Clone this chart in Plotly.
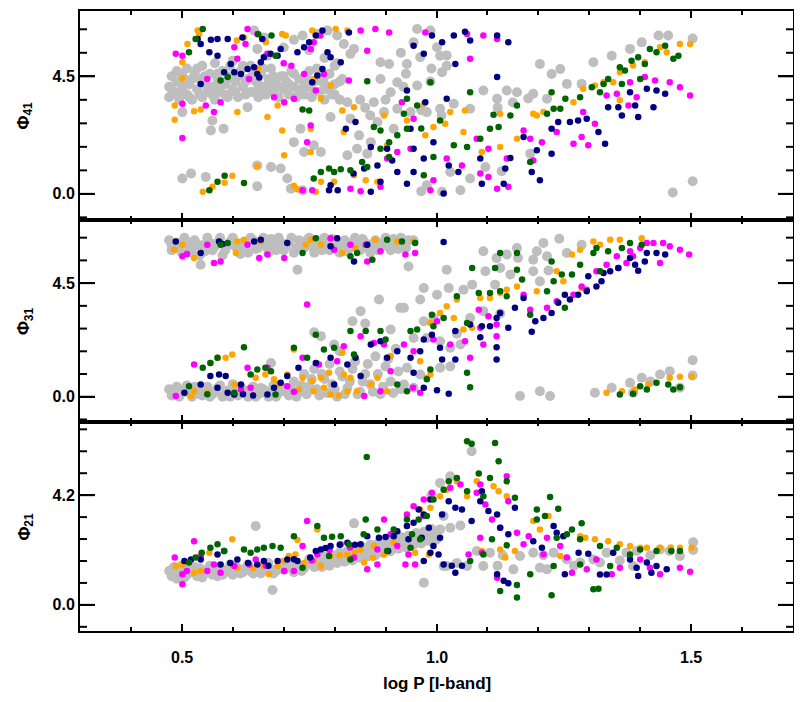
import plotly.graph_objects as go
from plotly.subplots import make_subplots

# ---- data: (log P, phase) pairs per panel and group ----

# Phi_41 panel
top_gray = [
    (0.475, 4.1), (0.475, 3.7), (0.48, 4.5), (0.485, 3.9), (0.49, 4.3), (0.49, 4.7), (0.495, 3.6),
    (0.50, 4.0), (0.505, 4.4), (0.51, 3.8), (0.51, 4.8), (0.515, 4.2), (0.52, 3.6), (0.525, 4.6),
    (0.53, 4.0), (0.535, 4.4), (0.54, 3.7), (0.54, 4.9), (0.545, 4.2), (0.55, 3.9), (0.555, 4.6),
    (0.56, 4.1), (0.565, 3.6), (0.565, 5.0), (0.57, 4.4), (0.575, 3.9), (0.58, 4.7), (0.585, 4.2),
    (0.59, 3.7), (0.595, 4.5), (0.60, 4.0), (0.60, 5.1), (0.605, 4.3), (0.61, 3.7), (0.615, 4.7),
    (0.62, 4.1), (0.625, 3.8), (0.63, 4.4), (0.635, 4.9), (0.64, 3.9), (0.645, 4.3), (0.65, 3.7),
    (0.655, 4.6), (0.66, 4.1), (0.665, 3.8), (0.67, 4.4), (0.675, 4.8), (0.68, 3.9), (0.685, 4.2),
    (0.69, 3.7), (0.695, 4.5), (0.70, 4.0), (0.705, 4.3), (0.71, 3.8), (0.715, 4.7), (0.72, 4.1),
    (0.725, 3.7), (0.73, 4.4), (0.735, 4.0), (0.74, 3.8), (0.745, 4.5), (0.75, 4.1), (0.755, 3.7),
    (0.76, 4.3), (0.765, 4.8), (0.77, 3.9), (0.775, 4.3), (0.78, 3.6), (0.785, 4.0), (0.79, 4.6),
    (0.795, 3.8), (0.80, 4.2), (0.805, 5.0), (0.81, 3.6), (0.815, 4.4),
    (0.48, 4.0), (0.49, 3.8), (0.50, 4.6), (0.50, 4.2), (0.515, 3.7), (0.52, 4.4), (0.53, 4.8),
    (0.535, 3.8), (0.545, 4.5), (0.55, 4.1), (0.56, 3.8), (0.57, 4.6), (0.575, 4.2), (0.585, 3.8),
    (0.59, 4.4), (0.595, 4.9), (0.605, 3.9), (0.61, 4.5), (0.62, 4.9), (0.625, 4.3), (0.635, 3.9),
    (0.64, 4.6), (0.65, 4.2), (0.655, 3.9), (0.66, 4.8), (0.67, 4.1), (0.68, 4.5), (0.69, 4.1),
    (0.70, 4.5), (0.71, 4.2), (0.72, 4.6), (0.73, 3.9), (0.74, 4.3), (0.75, 4.7), (0.76, 3.9),
    (0.77, 4.6), (0.78, 4.2), (0.79, 4.0), (0.80, 3.8), (0.81, 4.3),
    (0.642, 6.25), (0.661, 5.99), (0.737, 6.06), (0.766, 6.12), (0.786, 6.25), (0.805, 6.06),
    (0.818, 5.74), (0.838, 5.55), (0.648, 5.55), (0.668, 5.29), (0.831, 5.36), (0.70, 5.6),
    (0.72, 5.9), (0.75, 5.5), (0.78, 5.2),
    (0.501, 3.13), (0.560, 2.81), (0.557, 2.43), (0.582, 2.49), (0.629, 3.32), (0.501, 0.59),
    (0.518, 0.78), (0.547, 0.65), (0.648, 0.29), (0.648, 1.09), (0.675, 1.03), (0.694, 0.97),
    (0.707, 0.59), (0.714, 0.20), (0.737, 0.14), (0.720, 1.98), (0.733, 2.49), (0.740, 1.60),
    (0.759, 1.86), (0.773, 1.60), (0.792, 2.94), (0.825, 3.51), (0.831, 2.88), (0.848, 2.24),
    (0.825, 1.48), (0.844, 1.73), (0.864, 1.54), (0.890, 5.04), (0.907, 4.97), (0.890, 4.40),
    (0.910, 3.89), (0.923, 4.27), (0.877, 3.51), (0.897, 3.13), (0.923, 3.26), (0.884, 2.75),
    (0.916, 2.49), (0.871, 1.98), (0.85, 3.6), (0.86, 3.3), (0.87, 3.0), (0.90, 3.6),
    (0.78, 4.5), (0.80, 4.9),
    (0.962, 6.31), (0.988, 6.25), (1.001, 5.61), (0.942, 4.97), (0.968, 5.23), (1.007, 5.29),
    (1.020, 5.30), (1.011, 4.66), (0.962, 4.15), (0.988, 4.30), (0.949, 3.13), (0.981, 3.13),
    (1.007, 3.26), (1.034, 3.45), (1.066, 3.26), (1.092, 3.96), (1.119, 3.64), (1.138, 3.96),
    (1.158, 3.89), (1.19, 3.83), (1.203, 4.97), (1.217, 3.64), (1.226, 4.59), (1.243, 4.78),
    (1.256, 4.21), (1.285, 4.21), (1.308, 5.04), (1.344, 5.29), (1.380, 5.55), (1.403, 5.80),
    (1.436, 6.06), (1.455, 6.06), (1.503, 5.95), (1.503, 0.48), (1.464, 0.05), (0.981, 0.33),
    (1.011, 0.08), (1.047, 0.14), (1.027, 0.84), (1.066, 0.59), (1.096, 1.03), (1.128, 0.87),
    (1.184, 1.54), (0.93, 5.4), (0.955, 5.8), (0.94, 4.6), (0.99, 4.8), (1.02, 4.9), (0.935, 4.1),
    (1.12, 3.3), (1.15, 3.5), (1.18, 3.65), (0.97, 3.2), (1.01, 3.0), (0.97, 0.1),
]
top_orange = [
    (0.511, 5.74), (0.501, 5.04), (0.501, 4.43), (0.486, 3.38), (0.486, 2.84), (0.524, 3.16),
    (0.537, 3.23), (0.541, 0.08), (0.560, 0.27), (0.584, 0.43), (0.599, 0.69), (0.648, 1.07),
    (0.609, 3.13), (0.534, 6.12), (0.531, 6.25), (0.608, 5.87), (0.622, 5.99), (0.665, 5.80),
    (0.697, 6.12), (0.704, 6.06), (0.756, 6.25), (0.802, 6.31), (0.825, 6.25), (0.688, 3.38),
    (0.668, 2.94), (0.697, 2.43), (0.753, 2.49), (0.701, 1.48), (0.753, 1.60), (0.720, 0.31),
    (0.727, 0.18), (0.763, 0.08), (0.773, 3.64), (0.792, 4.15), (0.815, 3.19), (0.818, 2.37),
    (0.838, 3.32), (0.897, 3.0), (0.903, 1.86), (0.773, 0.46), (0.799, 0.46), (0.838, 0.71),
    (0.861, 0.52), (0.884, 0.46), (0.65, 4.8), (0.76, 4.4),
    (1.027, 3.13), (1.053, 2.37), (1.056, 3.19), (1.125, 3.07), (1.190, 3.07), (1.288, 4.02),
    (1.311, 4.15), (1.328, 4.27), (1.360, 4.66), (1.386, 4.91), (1.409, 5.04), (1.439, 5.61),
    (1.452, 5.42), (1.478, 5.74), (1.498, 5.74), (1.360, 3.58), (1.347, 4.27), (1.125, 1.79),
    (1.089, 1.60), (0.994, 2.56), (0.975, 3.45), (0.942, 2.81), (0.978, 2.24), (1.017, 2.68),
    (1.158, 2.11), (1.197, 3.0), (1.210, 3.13), (1.269, 3.51),
]
top_magenta = [
    (0.488, 5.36), (0.501, 5.29), (0.501, 3.45), (0.501, 2.14), (0.547, 3.38), (0.563, 3.13),
    (0.576, 3.51), (0.550, 4.40), (0.603, 5.61), (0.625, 5.74), (0.609, 5.17), (0.629, 6.31),
    (0.648, 6.12), (0.668, 5.36), (0.632, 4.40), (0.681, 3.70), (0.701, 3.51), (0.720, 3.64),
    (0.740, 4.59), (0.753, 5.55), (0.759, 5.80), (0.772, 6.06), (0.779, 4.59), (0.763, 3.96),
    (0.753, 2.62), (0.746, 1.98), (0.737, 0.14), (0.756, 0.14), (0.828, 4.34), (0.851, 6.25),
    (0.864, 5.48), (0.880, 6.31), (0.907, 6.18), (0.831, 0.20), (0.851, 0.10), (0.890, 0.27),
    (0.903, 1.35), (0.923, 1.60), (0.70, 5.0), (0.715, 4.9),
    (0.978, 6.18), (1.060, 6.12), (1.092, 6.06), (1.119, 5.93), (1.066, 5.17), (0.932, 3.51),
    (0.955, 2.88), (0.949, 1.73), (0.988, 0.14), (0.994, 0.52), (1.020, 1.35), (1.050, 1.09),
    (1.079, 2.11), (1.102, 1.73), (1.086, 0.78), (1.102, 0.65), (1.119, 0.20), (1.141, 0.27),
    (1.138, 1.35), (1.171, 2.43), (1.184, 2.11), (1.190, 1.28), (1.207, 1.98), (1.236, 2.37),
    (1.269, 1.92), (1.285, 2.18), (1.298, 1.86), (1.311, 2.68), (1.334, 3.77), (1.354, 3.83),
    (1.377, 3.38), (1.393, 3.70), (1.409, 4.47), (1.429, 4.34), (1.458, 4.27), (1.478, 4.08),
    (1.498, 3.77), (1.380, 4.27), (1.288, 3.13),
]
top_navy = [
    (0.531, 5.93), (0.537, 5.74), (0.554, 5.42), (0.557, 5.90), (0.570, 5.93), (0.590, 5.93),
    (0.570, 5.29), (0.596, 4.97), (0.583, 4.66), (0.603, 4.66), (0.616, 4.59), (0.629, 4.78),
    (0.642, 4.85), (0.655, 5.04), (0.661, 5.23), (0.674, 5.36), (0.688, 5.29), (0.694, 5.55),
    (0.619, 5.99), (0.658, 5.93), (0.537, 4.21), (0.648, 4.59), (0.652, 4.45), (0.727, 5.42),
    (0.740, 5.61), (0.750, 5.80), (0.763, 6.06), (0.776, 6.25), (0.786, 5.42), (0.792, 5.23),
    (0.776, 4.78), (0.766, 4.53), (0.756, 4.27), (0.812, 5.04), (0.828, 6.18), (0.841, 2.75),
    (0.822, 2.49), (0.871, 1.79), (0.903, 1.73), (0.913, 1.28), (0.884, 1.09), (0.858, 0.97),
    (0.837, 0.78), (0.792, 0.33), (0.789, 0.14), (0.806, 0.14), (0.871, 0.08), (0.890, 0.46),
    (0.923, 0.84),
    (0.955, 5.67), (0.975, 5.36), (0.991, 6.06), (1.011, 5.80), (1.034, 6.06), (1.056, 6.21),
    (1.066, 5.87), (1.119, 6.06), (1.141, 5.80), (1.037, 4.97), (1.119, 4.47), (0.942, 3.96),
    (1.020, 3.64), (0.978, 3.51), (0.949, 2.49), (0.994, 1.98), (0.955, 1.73), (0.975, 1.35),
    (0.955, 0.84), (0.942, 0.39), (1.014, 0.01), (1.024, 1.09), (1.043, 0.84), (1.086, 1.35),
    (1.089, 0.39), (1.132, 0.39), (1.135, 0.97), (1.145, 1.37), (1.171, 2.18), (1.187, 0.84),
    (1.197, 1.67), (1.203, 0.52), (1.226, 1.54), (1.226, 2.49), (1.239, 2.75), (1.262, 2.75),
    (1.278, 2.81), (1.295, 2.88), (1.318, 2.37), (1.331, 1.92), (1.337, 3.32), (1.357, 3.32),
    (1.364, 3.0), (1.380, 3.89), (1.390, 3.38), (1.396, 2.94), (1.413, 4.02), (1.426, 3.32),
    (1.432, 3.96), (1.449, 3.83),
]
top_green = [
    (0.541, 6.31), (0.527, 5.93), (0.514, 5.42), (0.576, 4.34), (0.650, 6.11), (0.676, 6.06),
    (0.684, 5.29), (0.737, 3.23), (0.750, 3.19), (0.864, 4.31), (0.554, 0.14), (0.570, 0.46),
    (0.584, 0.69), (0.622, 0.42), (0.877, 2.56), (0.890, 2.43), (0.907, 1.98), (0.789, 0.97),
    (0.812, 0.94), (0.831, 0.90), (0.854, 1.22), (0.590, 4.47), (0.799, 0.84), (0.759, 0.59),
    (0.773, 0.84), (0.864, 1.03), (0.907, 1.41), (0.890, 1.73), (0.923, 2.24),
    (0.988, 4.27), (1.066, 3.89), (1.112, 3.03), (1.145, 3.0), (1.158, 3.38), (1.226, 3.89),
    (1.217, 3.07), (1.230, 3.26), (1.243, 3.26), (1.253, 3.64), (1.282, 3.70), (1.305, 4.08),
    (1.321, 3.89), (1.328, 4.21), (1.337, 4.40), (1.360, 4.85), (1.370, 4.72), (1.383, 5.10),
    (1.396, 5.23), (1.409, 4.97), (1.419, 5.55), (1.432, 5.42), (1.449, 5.67), (1.465, 5.17),
    (1.475, 5.29), (1.400, 4.40), (1.364, 4.21), (1.034, 1.86), (1.060, 1.79), (0.994, 1.41),
    (0.942, 3.64), (0.975, 0.71), (1.184, 1.22), (1.086, 2.11), (1.105, 2.49), (1.122, 2.56),
    (1.007, 2.81), (0.962, 3.38), (0.936, 3.07), (0.942, 2.49), (0.97, 2.5),
]

# Phi_31 panel
mid_gray = [
    (0.475, 6.2), (0.48, 5.8), (0.49, 6.1), (0.50, 5.7), (0.505, 6.3), (0.515, 5.9), (0.525, 6.2),
    (0.535, 5.6), (0.54, 6.0), (0.55, 6.3), (0.56, 5.8), (0.57, 6.1), (0.58, 5.6), (0.59, 6.0),
    (0.60, 6.3), (0.61, 5.8), (0.62, 6.1), (0.63, 5.7), (0.64, 6.2), (0.65, 5.9), (0.66, 6.3),
    (0.67, 5.7), (0.68, 6.0), (0.69, 6.3), (0.70, 5.8), (0.71, 6.1), (0.72, 5.7), (0.73, 6.2),
    (0.74, 5.9), (0.75, 6.3), (0.76, 5.7), (0.77, 6.0), (0.78, 6.3), (0.79, 5.8), (0.80, 6.1),
    (0.81, 5.7), (0.82, 6.2), (0.83, 5.9), (0.84, 6.3), (0.85, 5.8), (0.86, 6.1), (0.87, 5.7),
    (0.88, 6.2), (0.89, 5.9), (0.90, 6.3), (0.91, 5.8), (0.92, 6.1), (0.93, 6.3), (0.94, 5.9),
    (0.955, 6.2), (0.537, 5.23), (0.727, 5.03),
    (0.48, 6.0), (0.495, 5.85), (0.51, 6.15), (0.52, 5.7), (0.53, 6.0), (0.545, 5.75), (0.555, 6.1),
    (0.565, 5.95), (0.575, 6.3), (0.585, 5.8), (0.595, 6.15), (0.605, 5.95), (0.615, 5.65),
    (0.625, 6.0), (0.635, 6.3), (0.645, 5.85), (0.655, 6.1), (0.665, 5.95), (0.675, 6.25),
    (0.685, 5.8), (0.695, 6.1), (0.705, 5.95), (0.715, 6.3), (0.725, 5.9), (0.735, 6.05),
    (0.745, 6.2), (0.755, 5.95), (0.765, 6.2), (0.775, 5.8), (0.785, 6.05), (0.795, 6.25),
    (0.805, 5.9), (0.815, 6.05), (0.825, 5.75), (0.835, 6.1), (0.845, 5.95), (0.855, 6.25),
    (0.865, 5.9), (0.875, 6.05), (0.885, 5.8), (0.895, 6.1), (0.905, 5.95), (0.915, 6.25),
    (0.925, 5.85), (0.935, 6.1), (0.945, 6.2),
    (0.887, 3.85), (0.851, 3.39), (0.835, 2.99), (0.86, 2.9), (0.910, 2.66), (0.773, 2.40),
    (0.76, 2.55), (0.929, 3.52), (0.675, 1.34), (0.799, 2.07), (0.81, 1.8),
    (0.475, 0.3), (0.48, 0.05), (0.49, 0.4), (0.50, 0.15), (0.51, 0.45), (0.52, 0.0), (0.53, 0.3),
    (0.54, 0.05), (0.55, 0.4), (0.56, 0.1), (0.57, 0.35), (0.58, 0.0), (0.59, 0.25), (0.60, 0.5),
    (0.61, 0.05), (0.62, 0.3), (0.63, 0.0), (0.64, 0.4), (0.65, 0.1), (0.66, 0.3), (0.67, 0.0),
    (0.68, 0.45), (0.69, 0.15), (0.70, 0.35), (0.71, 0.05), (0.72, 0.6), (0.73, 0.2), (0.74, 0.9),
    (0.75, 0.4), (0.76, 1.1), (0.77, 0.05), (0.78, 0.7), (0.79, 1.3), (0.80, 0.3), (0.81, 1.0),
    (0.82, 0.1), (0.83, 0.6), (0.84, 1.4), (0.85, 0.2), (0.86, 0.9), (0.87, 0.5), (0.88, 1.6),
    (0.89, 0.1), (0.90, 1.2), (0.91, 0.6), (0.92, 1.9), (0.93, 0.3),
    (0.485, 0.2), (0.495, 0.0), (0.505, 0.3), (0.515, 0.15), (0.525, 0.4), (0.535, 0.1),
    (0.545, 0.25), (0.555, 0.0), (0.565, 0.2), (0.575, 0.45), (0.585, 0.1), (0.595, 0.0),
    (0.605, 0.25), (0.615, 0.4), (0.625, 0.15), (0.635, 0.3), (0.645, 0.0), (0.655, 0.35),
    (0.665, 0.15), (0.675, 0.25), (0.685, 0.0), (0.695, 0.4), (0.705, 0.2), (0.715, 0.3),
    (0.725, 0.0), (0.735, 0.45), (0.745, 0.1), (0.755, 0.7), (0.765, 0.3), (0.775, 0.9),
    (0.785, 0.15), (0.795, 0.5), (0.805, 0.0), (0.815, 0.8), (0.825, 0.35), (0.835, 1.1),
    (0.845, 0.1), (0.855, 0.6), (0.865, 1.3), (0.875, 0.2), (0.885, 0.9), (0.895, 0.4),
    (0.905, 1.5), (0.915, 0.15), (0.925, 1.0),
    (1.241, 6.26), (1.210, 6.09), (1.197, 5.76), (1.217, 5.56), (1.190, 5.43), (1.158, 5.89),
    (1.138, 5.63), (1.092, 5.76), (1.118, 5.49), (1.160, 5.5), (1.096, 4.97), (1.125, 5.10),
    (1.145, 4.84), (1.115, 4.44), (1.070, 4.44), (1.053, 4.24), (1.024, 4.31), (1.001, 4.04),
    (0.975, 4.31), (0.968, 3.85), (0.936, 3.52), (1.020, 5.03), (0.945, 5.16), (1.256, 5.69),
    (1.285, 6.02), (1.190, 4.97), (1.203, 4.57), (1.22, 5.0), (0.994, 3.12), (0.975, 2.99),
    (0.955, 2.33), (0.981, 2.33), (1.007, 2.20), (1.027, 1.94), (1.047, 2.07), (1.066, 3.12),
    (1.092, 3.39), (1.125, 3.3), (1.04, 2.5), (0.942, 1.15), (0.968, 0.88), (0.936, 0.49),
    (0.955, 0.36), (1.007, 1.15), (1.027, 1.2), (1.164, 0.03), (1.203, 0.22), (1.223, 0.03),
    (1.311, 0.16), (1.344, 0.36), (1.380, 0.55), (1.403, 0.75), (1.439, 0.88), (1.458, 1.01),
    (1.478, 0.36), (1.503, 1.45), (1.503, 0.84), (1.386, 0.16), (1.42, 0.6),
]
mid_orange = [
    (0.485, 5.82), (0.501, 6.02), (0.524, 5.49), (0.537, 5.69), (0.606, 5.69), (0.609, 6.15),
    (0.622, 6.22), (0.655, 6.15), (0.743, 6.02), (0.753, 6.22), (0.773, 6.02), (0.815, 5.69),
    (0.841, 5.89), (0.880, 6.22), (0.923, 6.15), (0.518, 0.03), (0.550, 0.16), (0.556, 1.34),
    (0.570, 1.54), (0.586, 1.54), (0.599, 1.67), (0.524, 0.22), (0.603, 0.49), (0.645, 0.75),
    (0.664, 0.88), (0.681, 0.69), (0.720, 1.87), (0.707, 0.88), (0.737, 0.75), (0.756, 0.62),
    (0.779, 0.36), (0.792, 0.09), (0.808, 0.05), (0.825, 0.22), (0.844, 0.22), (0.871, 0.49),
    (0.884, 0.75), (0.759, 0.22), (0.773, 0.75), (0.789, 0.95), (0.818, 0.88), (0.831, 0.75),
    (0.903, 0.22), (0.910, 1.61), (0.815, 1.74), (0.765, 1.34), (0.69, 0.5), (0.73, 0.3),
    (0.955, 6.15), (0.988, 2.92), (1.007, 3.32), (1.020, 3.58), (1.034, 3.12), (1.053, 2.66),
    (1.070, 2.73), (1.040, 3.85), (1.086, 3.91), (1.105, 3.91), (1.125, 4.11), (1.138, 4.24),
    (1.158, 4.37), (1.197, 4.18), (1.236, 4.97), (1.249, 4.57), (1.266, 5.63), (1.282, 5.82),
    (1.308, 6.15), (1.321, 6.02), (1.341, 6.22), (1.360, 6.22), (1.403, 6.28), (0.988, 0.88),
    (0.981, 0.75), (0.968, 1.41), (1.334, 0.16), (1.364, 0.22), (1.390, 0.29), (1.416, 0.49),
    (1.458, 0.75), (1.478, 0.79), (1.501, 0.79), (1.285, 4.31),
]
mid_magenta = [
    (0.488, 0.03), (0.524, 1.28), (0.501, 5.56), (0.510, 5.65), (0.550, 6.02), (0.576, 5.36),
    (0.563, 5.30), (0.629, 6.02), (0.652, 5.49), (0.668, 5.63), (0.701, 5.49), (0.746, 3.65),
    (0.737, 1.54), (0.792, 6.28), (0.799, 5.82), (0.831, 6.02), (0.861, 6.02), (0.864, 5.36),
    (0.890, 5.76), (0.851, 2.40), (0.858, 0.03), (0.890, 0.22), (0.616, 0.29), (0.635, 0.36),
    (0.707, 0.42), (0.818, 2.00), (0.805, 1.41), (0.877, 2.13), (0.897, 2.07), (0.910, 1.01),
    (0.769, 1.28), (0.668, 1.15), (0.629, 1.15), (0.72, 0.2),
    (0.939, 5.63), (0.958, 5.69), (0.936, 2.07), (0.955, 1.80), (0.994, 2.27), (1.001, 2.99),
    (1.027, 2.07), (1.066, 1.54), (1.056, 2.20), (1.092, 2.07), (1.083, 3.45), (1.086, 2.73),
    (1.102, 3.19), (1.118, 2.86), (1.118, 2.40), (1.171, 4.04), (1.184, 3.45), (1.217, 3.52),
    (1.236, 3.78), (1.269, 4.04), (1.285, 4.37), (1.295, 4.24), (1.314, 4.97), (1.334, 5.23),
    (1.354, 5.56), (1.373, 5.30), (1.380, 5.76), (1.400, 5.89), (1.413, 6.09), (1.426, 6.09),
    (1.445, 6.09), (1.458, 5.96), (1.478, 5.82), (1.496, 5.63), (1.439, 5.30), (1.386, 5.56),
    (1.357, 5.10), (0.968, 0.16), (0.954, 0.36),
]
mid_navy = [
    (0.488, 6.15), (0.537, 5.69), (0.573, 6.15), (0.580, 6.05), (0.642, 6.15), (0.655, 6.22),
    (0.707, 6.09), (0.805, 6.28), (0.792, 5.96), (0.838, 5.36), (0.864, 6.02), (0.505, 0.16),
    (0.537, 0.49), (0.556, 0.82), (0.573, 0.88), (0.586, 0.82), (0.570, 0.36), (0.590, 0.16),
    (0.616, 0.49), (0.603, 0.09), (0.668, 0.09), (0.681, 0.36), (0.694, 0.55), (0.707, 0.82),
    (0.729, 1.15), (0.763, 1.34), (0.792, 1.54), (0.825, 1.28), (0.841, 1.54), (0.871, 2.07),
    (0.890, 2.20), (0.903, 1.54), (0.923, 1.80), (0.851, 0.82), (0.799, 0.49), (0.62, 0.1),
    (0.64, 0.05),
    (1.014, 6.13), (0.949, 1.54), (0.968, 1.80), (0.975, 2.27), (0.991, 2.46), (1.007, 1.94),
    (1.011, 1.48), (1.037, 1.48), (1.037, 2.60), (1.066, 2.86), (1.086, 2.36), (1.089, 2.79),
    (1.105, 2.79), (1.118, 3.12), (1.125, 3.32), (1.141, 2.73), (1.118, 1.96), (1.118, 1.48),
    (1.154, 3.52), (1.171, 3.91), (1.187, 2.57), (1.194, 2.99), (1.210, 3.12), (1.226, 3.32),
    (1.239, 3.72), (1.252, 4.04), (1.262, 3.85), (1.278, 4.04), (1.295, 4.18), (1.314, 4.37),
    (1.324, 4.57), (1.298, 4.77), (1.328, 4.90), (1.341, 4.97), (1.357, 5.10), (1.380, 5.49),
    (1.390, 5.23), (1.396, 4.99), (1.409, 5.36), (1.413, 5.69), (1.432, 5.69), (1.449, 5.63),
    (1.001, 0.26), (1.024, 0.12), (0.975, 0.36), (0.955, 0.95),
]
mid_green = [
    (0.514, 0.42), (0.541, 1.15), (0.556, 1.34), (0.570, 1.54), (0.622, 1.96), (0.603, 0.16),
    (0.635, 0.88), (0.648, 1.08), (0.664, 1.15), (0.675, 1.01), (0.684, 0.09), (0.720, 1.94),
    (0.746, 1.54), (0.763, 2.46), (0.779, 1.87), (0.799, 1.94), (0.831, 2.60), (0.861, 2.60),
    (0.890, 2.60), (0.900, 2.27), (0.838, 1.67), (0.576, 6.02), (0.590, 6.09), (0.737, 5.69),
    (0.763, 6.28), (0.831, 5.56), (0.844, 5.69), (0.874, 5.43), (0.903, 6.22), (0.923, 0.49),
    (0.55, 0.1),
    (0.932, 6.15), (0.958, 6.09), (0.949, 2.60), (0.962, 2.66), (0.994, 2.79), (0.991, 3.25),
    (1.014, 3.12), (1.060, 2.92), (1.040, 3.98), (1.083, 4.11), (1.105, 4.11), (1.125, 4.18),
    (1.138, 3.98), (1.125, 5.69), (1.158, 5.69), (1.158, 5.03), (1.115, 5.10), (1.070, 5.10),
    (1.168, 4.64), (1.184, 3.25), (1.226, 5.36), (1.230, 4.57), (1.246, 4.84), (1.252, 3.52),
    (1.266, 4.84), (1.282, 5.23), (1.308, 5.69), (1.314, 5.89), (1.337, 5.76), (1.364, 5.89),
    (1.380, 6.09), (1.403, 6.02), (1.321, 4.97), (1.217, 4.18), (1.060, 0.95), (1.066, 0.38),
    (0.988, 1.08), (0.981, 0.69), (0.942, 0.22), (1.360, 0.09), (1.386, 0.12), (1.400, 0.42),
    (1.413, 0.29), (1.432, 0.55), (1.455, 0.49), (1.465, 0.29), (1.478, 0.38),
]

# Phi_21 panel
bot_gray = [
    (0.475, 1.3), (0.48, 1.1), (0.485, 1.45), (0.49, 1.2), (0.50, 1.35), (0.505, 1.05), (0.51, 1.5),
    (0.52, 1.25), (0.53, 1.1), (0.535, 1.4), (0.545, 1.2), (0.555, 1.5), (0.56, 1.3), (0.57, 1.1),
    (0.575, 1.45), (0.585, 1.25), (0.595, 1.55), (0.60, 1.15), (0.61, 1.4), (0.62, 1.25),
    (0.63, 1.55), (0.64, 1.2), (0.65, 1.45), (0.66, 1.3), (0.67, 1.6), (0.68, 1.2), (0.69, 1.45),
    (0.70, 1.35), (0.71, 1.65), (0.72, 1.25), (0.73, 1.5), (0.74, 1.4), (0.75, 1.75), (0.76, 1.45),
    (0.77, 1.6), (0.78, 1.85), (0.79, 1.5), (0.80, 1.75), (0.81, 2.0), (0.82, 1.65), (0.83, 1.9),
    (0.84, 2.15), (0.85, 1.8), (0.86, 2.05), (0.87, 2.3), (0.88, 1.9), (0.89, 2.2), (0.90, 2.45),
    (0.91, 2.05), (0.92, 2.35), (0.93, 2.6), (0.94, 2.2), (0.95, 2.5), (0.96, 2.75), (0.97, 2.35),
    (0.98, 2.65), (0.99, 2.9), (1.00, 2.5),
    (0.48, 1.35), (0.49, 1.0), (0.495, 1.25), (0.50, 1.5), (0.51, 1.15), (0.515, 1.35),
    (0.525, 1.45), (0.53, 1.25), (0.54, 1.05), (0.55, 1.35), (0.56, 1.15), (0.565, 1.4),
    (0.58, 1.15), (0.59, 1.35), (0.60, 1.3), (0.605, 1.5), (0.615, 1.2), (0.625, 1.4),
    (0.635, 1.3), (0.645, 1.35), (0.655, 1.2), (0.665, 1.45), (0.675, 1.35), (0.685, 1.3),
    (0.695, 1.6), (0.705, 1.45), (0.715, 1.4), (0.725, 1.6), (0.735, 1.3), (0.745, 1.55),
    (0.755, 1.6), (0.765, 1.65), (0.775, 1.45), (0.785, 1.7), (0.795, 1.9), (0.805, 1.6),
    (0.815, 1.85), (0.825, 2.05), (0.835, 1.7), (0.845, 1.95), (0.855, 2.2), (0.865, 1.85),
    (0.875, 2.1), (0.885, 2.35), (0.895, 2.0), (0.905, 2.25), (0.915, 2.5), (0.925, 2.15),
    (0.935, 2.4), (0.945, 2.65), (0.955, 2.3), (0.965, 2.55), (0.975, 2.8), (0.985, 2.45),
    (0.995, 2.65),
    (0.645, 3.02), (0.678, 0.57), (0.838, 3.12),
    (1.027, 4.92), (1.069, 5.88), (1.007, 4.67), (0.99, 4.2),
    (1.027, 2.95), (1.047, 3.04), (1.007, 2.89), (1.020, 1.49), (1.060, 1.49), (1.105, 2.0),
    (1.151, 1.36), (1.164, 1.87), (1.190, 2.0), (1.210, 1.9), (1.230, 2.0), (1.256, 1.74),
    (1.282, 1.62), (1.308, 1.74), (1.334, 2.0), (1.373, 2.0), (1.393, 2.06), (1.439, 2.12),
    (1.458, 2.06), (1.478, 1.87), (1.504, 2.40), (1.504, 2.1), (0.975, 0.85), (1.014, 1.49),
    (1.217, 1.36), (1.092, 1.49), (1.079, 2.06), (1.203, 1.42), (1.321, 1.62), (1.386, 1.49),
    (1.014, 3.40), (0.994, 2.76), (1.04, 1.6), (1.12, 1.5), (1.13, 1.9), (1.27, 1.5), (1.36, 1.7),
    (1.42, 1.9),
]
bot_orange = [
    (0.488, 1.49), (0.501, 1.55), (0.524, 1.23), (0.537, 1.30), (0.554, 2.00), (0.599, 2.51),
    (0.609, 1.42), (0.671, 1.17), (0.688, 1.49), (0.701, 1.68), (0.710, 1.87), (0.723, 1.93),
    (0.727, 2.48), (0.759, 1.68), (0.773, 1.49), (0.792, 1.87), (0.81, 1.9), (0.825, 1.93),
    (0.84, 2.0), (0.851, 2.12), (0.766, 2.89), (0.877, 2.25), (0.897, 1.93), (0.916, 2.38),
    (0.858, 1.62), (0.875, 1.8), (0.60, 1.5), (0.64, 1.4), (0.66, 1.5), (0.74, 1.6),
    (1.020, 4.41), (1.040, 4.73), (1.060, 4.16), (1.079, 4.73), (1.112, 4.54), (1.122, 4.35),
    (1.138, 4.16), (1.007, 4.16), (0.968, 3.65), (0.988, 3.72), (0.942, 3.02), (0.985, 1.93),
    (0.958, 2.00), (1.125, 2.12), (1.135, 1.81), (1.154, 2.06), (1.190, 3.21), (1.203, 2.89),
    (1.220, 3.40), (1.243, 1.87), (1.282, 2.63), (1.292, 2.57), (1.311, 2.51), (1.337, 2.44),
    (1.360, 2.32), (1.380, 2.25), (1.400, 2.19), (1.413, 2.19), (1.439, 2.19), (1.478, 2.19),
    (1.501, 2.19), (1.089, 2.06), (1.46, 2.2),
]
bot_magenta = [
    (0.486, 1.81), (0.501, 1.17), (0.501, 0.79), (0.51, 1.3), (0.524, 2.44), (0.537, 1.87),
    (0.550, 1.30), (0.563, 1.55), (0.576, 1.23), (0.603, 1.49), (0.632, 1.55), (0.645, 1.74),
    (0.665, 1.5), (0.701, 1.30), (0.720, 1.30), (0.737, 2.25), (0.746, 3.21), (0.755, 1.7),
    (0.766, 1.93), (0.79, 2.1), (0.812, 2.32), (0.83, 2.2), (0.864, 1.36), (0.884, 1.55),
    (0.897, 3.27), (0.910, 2.70), (0.923, 2.25), (0.838, 1.81), (0.884, 2.12),
    (0.945, 1.93), (0.939, 1.55), (0.958, 1.55), (0.975, 3.40), (0.991, 4.29), (0.975, 4.03),
    (0.955, 3.78), (0.942, 3.46), (1.027, 4.48), (1.047, 4.61), (1.086, 4.61), (1.079, 4.29),
    (1.096, 3.84), (1.109, 3.27), (1.138, 4.92), (1.141, 3.97), (1.158, 2.76), (1.125, 2.95),
    (1.086, 2.57), (1.089, 2.00), (1.063, 1.93), (1.171, 2.32), (1.181, 2.63), (1.210, 1.93),
    (1.217, 2.57), (1.243, 2.25), (1.256, 1.81), (1.266, 1.23), (1.295, 1.36), (1.314, 1.74),
    (1.344, 1.17), (1.360, 1.42), (1.400, 1.74), (1.419, 1.42), (1.439, 1.17), (1.478, 1.42),
    (1.498, 1.27), (1.119, 1.04),
]
bot_navy = [
    (0.505, 1.68), (0.518, 1.74), (0.537, 1.74), (0.570, 1.93), (0.583, 2.06), (0.576, 1.55),
    (0.595, 1.6), (0.609, 1.74), (0.63, 1.6), (0.648, 1.55), (0.661, 1.68), (0.67, 1.5),
    (0.688, 1.68), (0.707, 1.74), (0.72, 1.75), (0.727, 1.68), (0.752, 1.81), (0.763, 2.06),
    (0.773, 2.12), (0.782, 2.18), (0.792, 2.25), (0.81, 2.3), (0.825, 2.38), (0.84, 2.3),
    (0.851, 2.32), (0.864, 2.63), (0.887, 2.57), (0.90, 2.6), (0.916, 2.63), (0.923, 2.82),
    (0.905, 2.06),
    (0.942, 3.02), (0.955, 3.14), (0.965, 3.65), (0.988, 4.03), (0.975, 3.46), (0.985, 2.95),
    (0.945, 2.51), (0.971, 2.57), (0.994, 2.25), (0.988, 2.00), (0.975, 1.68), (1.007, 2.57),
    (1.011, 3.46), (1.004, 1.93), (1.014, 1.55), (1.037, 1.23), (1.024, 3.97), (1.037, 3.72),
    (1.050, 3.65), (1.069, 3.21), (1.086, 3.97), (1.089, 4.35), (1.102, 3.59), (1.119, 3.46),
    (1.125, 2.95), (1.141, 2.70), (1.154, 3.72), (1.119, 1.17), (1.132, 0.92), (1.141, 0.83),
    (1.190, 2.44), (1.207, 2.19), (1.230, 3.02), (1.236, 2.76), (1.249, 2.63), (1.252, 1.17),
    (1.279, 2.00), (1.298, 1.96), (1.321, 1.16), (1.334, 1.16), (1.347, 2.00), (1.380, 1.74),
    (1.393, 1.42), (1.396, 1.11), (1.413, 1.62), (1.422, 1.23), (1.432, 1.49), (1.452, 1.36),
    (1.03, 1.5), (1.05, 1.5),
]
bot_green = [
    (0.863, 5.66), (0.514, 1.62), (0.527, 1.81), (0.539, 2.00), (0.556, 2.19), (0.570, 2.32),
    (0.583, 2.06), (0.622, 2.12), (0.635, 2.00), (0.648, 2.12), (0.661, 2.19), (0.678, 2.25),
    (0.694, 2.19), (0.720, 2.63), (0.737, 1.42), (0.766, 3.02), (0.779, 2.57), (0.795, 2.61),
    (0.812, 2.63), (0.828, 2.32), (0.861, 3.27), (0.857, 2.70), (0.884, 2.89), (0.916, 2.89),
    (0.903, 2.06), (0.789, 1.87), (0.831, 1.74),
    (1.060, 6.26), (1.069, 6.17), (1.115, 6.20), (1.122, 5.50), (1.083, 5.03), (1.105, 4.86),
    (1.138, 4.73), (1.154, 4.10), (1.092, 4.16), (1.060, 4.35), (1.040, 4.86), (1.024, 4.73),
    (1.014, 4.41), (0.994, 4.03), (0.981, 3.40), (0.965, 3.27), (0.942, 3.27), (0.952, 2.70),
    (0.968, 2.51), (0.949, 2.19), (1.197, 3.65), (1.223, 4.13), (1.239, 3.68), (1.213, 3.40),
    (1.197, 3.27), (1.266, 2.89), (1.285, 3.12), (1.256, 2.70), (1.236, 2.57), (1.282, 2.51),
    (1.138, 2.28), (1.184, 1.17), (1.125, 0.53), (1.158, 0.28), (1.158, 0.76), (1.226, 0.37),
    (1.308, 0.60), (1.318, 0.62), (1.341, 1.49), (1.321, 2.25), (1.354, 2.19), (1.380, 1.93),
    (1.400, 2.12), (1.432, 2.06), (1.461, 2.06), (1.478, 2.06), (1.282, 1.55), (1.230, 1.49),
    (1.092, 1.93), (1.066, 1.68), (1.109, 2.51),
]

x_range = [0.3, 1.7]
x_labels = [0.5, 1.0, 1.5]
row_heights = [210, 203, 210]
phi41_major = [0.0, 4.5]
phi41_minor = [-0.9, 0.9, 1.8, 2.7, 3.6, 5.4, 6.3]
phi21_major = [0.0, 4.2]
phi21_minor = [-0.84, 0.84, 1.68, 2.52, 3.36, 5.04, 5.88, 6.72]

panels = [
    (1, "Φ<sub>41</sub>", phi41_major, phi41_minor,
     [top_gray, top_orange, top_magenta, top_navy, top_green]),
    (2, "Φ<sub>31</sub>", phi41_major, phi41_minor,
     [mid_gray, mid_orange, mid_magenta, mid_navy, mid_green]),
    (3, "Φ<sub>21</sub>", phi21_major, phi21_minor,
     [bot_gray, bot_orange, bot_magenta, bot_navy, bot_green]),
]
colors = ["#bebebe", "#ffa500", "#ff00ff", "#000080", "#006400"]
sizes = [10, 6.5, 6.5, 6.5, 6.5]

fig = make_subplots(rows=3, cols=1, shared_xaxes=True, vertical_spacing=0,
                    row_heights=row_heights)

bold = dict(family="Liberation Sans, Arial, sans-serif", size=16, color="black", weight="bold")
title_font = dict(family="Liberation Sans, Arial, sans-serif", size=17, color="black",
                  weight="bold")


def y_tick(xref, yref, value, length):
    # a short tick on both the left and the right frame edge of a panel
    for anchor, x0, x1 in ((x_range[0], 0, length), (x_range[1], -length, 0)):
        fig.add_shape(type="line", xref=xref, yref=yref, xsizemode="pixel",
                      xanchor=anchor, x0=x0, x1=x1, y0=value, y1=value,
                      line=dict(color="black", width=2), layer="above")


total = float(sum(row_heights))
for row, label, major, minor, groups in panels:
    for pts, c, s in zip(groups, colors, sizes):
        fig.add_trace(go.Scatter(
            x=[p[0] for p in pts], y=[p[1] for p in pts], mode="markers",
            marker=dict(color=c, size=s, line=dict(width=0)),
            hoverinfo="skip", showlegend=False), row=row, col=1)
    fig.update_yaxes(range=[-1, 7], tickmode="array", tickvals=major,
                     ticktext=["%.1f" % v for v in major],
                     ticks="inside", ticklen=15, tickwidth=2, tickcolor="black",
                     showline=True, linewidth=2, linecolor="black", mirror="allticks",
                     showgrid=False, zeroline=False, tickfont=bold,
                     row=row, col=1)
    xref = "x" if row == 1 else "x%d" % row
    yref = "y" if row == 1 else "y%d" % row
    for v in major:
        y_tick(xref, yref, v, 15)
    for v in minor:
        y_tick(xref, yref, v, 7)
    yc = (sum(row_heights[row:]) + row_heights[row - 1] / 2.0) / total
    fig.add_annotation(text=label, textangle=-90, showarrow=False,
                       xref="paper", x=-0.077, xanchor="center",
                       yref="paper", y=yc, yanchor="middle", font=title_font)

fig.update_xaxes(range=x_range, tick0=0.5, dtick=0.5,
                 ticks="inside", ticklen=7, tickwidth=2, tickcolor="black",
                 minor=dict(dtick=0.1, ticks="inside", ticklen=4),
                 showline=True, linewidth=2, linecolor="black", mirror="allticks",
                 showgrid=False, zeroline=False, showticklabels=False)

# x tick labels, set a little further below the axis than plotly's default
for v in x_labels:
    fig.add_annotation(text="%.1f" % v, showarrow=False, xref="x3", x=v, xanchor="center",
                       yref="paper", y=-0.0434, yanchor="middle", font=bold)

fig.add_annotation(text="log P [I-band]", showarrow=False, xref="paper", x=0.5,
                   yref="paper", y=-0.084, yanchor="middle", font=title_font)

# the page body adds an 8 px offset, so the figure is drawn 8 px smaller
fig.update_layout(width=794, height=694, margin=dict(l=72, r=9, t=1, b=71),
                  plot_bgcolor="white", paper_bgcolor="white", showlegend=False)

fig.write_html("out.html")
